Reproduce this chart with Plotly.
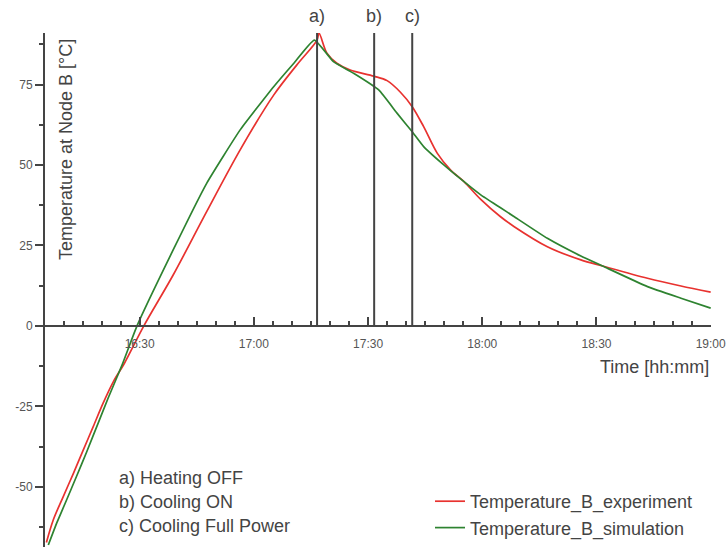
import plotly.graph_objects as go

DAY = "2024-01-01 "

# Experiment (red)
exp_time = ["16:05:30", "16:07:18", "16:09:54", "16:12:36", "16:15:12", "16:17:48", "16:20:24",
            "16:23:06", "16:26:00", "16:31:06",
            "16:38:48", "16:47:36", "16:56:24", "17:05:12", "17:11:18", "17:16:36", "17:17:06",
            "17:19:12", "17:21:48", "17:25:18", "17:31:30", "17:35:00", "17:38:30", "17:41:36",
            "17:44:36", "17:48:12", "17:51:42", "17:55:12", "17:59:36", "18:04:48", "18:08:18",
            "18:17:06", "18:25:54", "18:31:36", "18:43:24", "18:52:12", "19:00:00"]
exp_temp = [-67.3, -60.3, -53.1, -45.8, -38.5, -31.3, -24.0,
            -17.3, -11.6, 0,
            15.8, 35.5, 54.7, 71.7, 81.1, 88.8, 91.0,
            84.7, 81.6, 79.5, 77.6, 76.2, 72.6, 68.1,
            61.9, 53.6, 48.4, 44.8, 39.3, 33.9, 30.9,
            24.6, 20.5, 18.6, 14.8, 12.4, 10.5]

# Simulation (green)
sim_time = ["16:06:00", "16:08:12", "16:10:48", "16:13:24", "16:16:06", "16:19:06", "16:21:42",
            "16:25:30", "16:29:18",
            "16:38:48", "16:47:36", "16:56:24", "17:05:12", "17:10:30", "17:15:54", "17:20:54",
            "17:26:12", "17:32:48", "17:37:36", "17:41:36", "17:44:36", "17:49:54", "17:55:12",
            "17:59:36", "18:04:48", "18:08:18", "18:17:06", "18:25:54", "18:31:36", "18:43:24",
            "18:52:12", "19:00:00"]
sim_temp = [-68.1, -61.3, -54.1, -46.8, -39.1, -30.2, -22.5,
            -11.8, 0,
            23.6, 44.3, 60.9, 74.3, 81.6, 88.8, 82.1,
            78.5, 73.3, 66.1, 60.3, 55.7, 50, 44.8,
            40.7, 36.7, 34.0, 27.2, 21.7, 18.6, 12.2,
            8.6, 5.5]

event_times = ["17:16:36", "17:31:36", "17:41:36"]
event_labels = ["a)", "b)", "c)"]
event_notes = ["a) Heating OFF", "b) Cooling ON", "c) Cooling Full Power"]

y_tick_vals = [-50, -25, 0, 25, 50, 75]
y_tick_text = ["-50", "-25", "0", "25", "50", "75"]

Y_MIN, Y_MAX = -68.7, 91.0
X_MIN, X_MAX = DAY + "16:05:08", DAY + "19:00:05"

FONT = "Liberation Sans, Arial, sans-serif"
TXT = "#444444"
AX = "#444444"

fig = go.Figure()
fig.add_trace(go.Scatter(x=[DAY + t for t in exp_time], y=exp_temp, mode="lines",
                         name="Temperature_B_experiment",
                         line=dict(color="#e8322f", width=1.7, shape="spline", smoothing=0.9)))
fig.add_trace(go.Scatter(x=[DAY + t for t in sim_time], y=sim_temp, mode="lines",
                         name="Temperature_B_simulation",
                         line=dict(color="#2e8330", width=1.7, shape="spline", smoothing=0.4)))

for t, lab in zip(event_times, event_labels):
    fig.add_shape(type="line", xref="x", yref="y", x0=DAY + t, x1=DAY + t, y0=0, y1=Y_MAX,
                  line=dict(color=AX, width=2))
    fig.add_annotation(x=DAY + t, y=1.033, xref="x", yref="paper", text=lab, showarrow=False,
                       font=dict(size=18, color=TXT, family=FONT), xanchor="center", yanchor="middle")

for i, note in enumerate(event_notes):
    fig.add_annotation(x=(117 - 45) / 666, y=(547 - 478 - 24 * i) / 514, xref="paper", yref="paper",
                       text=note, showarrow=False, xanchor="left", yanchor="middle",
                       font=dict(size=18, color=TXT, family=FONT))

fig.add_annotation(x=1.0, y=(547 - 367) / 514, xref="paper", yref="paper", text="Time [hh:mm]",
                   showarrow=False, xanchor="right", yanchor="middle",
                   font=dict(size=18, color=TXT, family=FONT))
fig.add_annotation(x=(66 - 45) / 666, y=(547 - 150) / 514, xref="paper", yref="paper",
                   text="Temperature at Node B [°C]", textangle=-90, showarrow=False,
                   xanchor="center", yanchor="middle",
                   font=dict(size=18, color=TXT, family=FONT))

fig.update_layout(
    width=726, height=547,
    margin=dict(l=45, r=15, t=33, b=0),
    paper_bgcolor="white", plot_bgcolor="white",
    font=dict(family=FONT, color=TXT),
    showlegend=True,
    legend=dict(x=(430 - 45) / 666, y=(547 - 483) / 514, xanchor="left", yanchor="top",
                bgcolor="rgba(0,0,0,0)", font=dict(size=18, color=TXT, family=FONT),
                itemwidth=30, tracegroupgap=0),
    xaxis=dict(
        type="date", range=[X_MIN, X_MAX],
        anchor="free", position=(0 - Y_MIN) / (Y_MAX - Y_MIN),
        showline=True, linecolor=AX, linewidth=2,
        showgrid=False, zeroline=False,
        tickformat="%H:%M", tick0=DAY + "16:00:00", dtick=30 * 60 * 1000,
        ticks="inside", ticklen=8, tickwidth=1.5, tickcolor=AX,
        ticklabelstandoff=7, ticklabeloverflow="allow",
        tickfont=dict(size=12, color="#555555", family=FONT),
        minor=dict(dtick=5 * 60 * 1000, tick0=DAY + "16:00:00", ticks="inside",
                   ticklen=4, tickwidth=1.5, tickcolor=AX, showgrid=False),
    ),
    yaxis=dict(
        range=[Y_MIN, Y_MAX],
        showline=True, linecolor=AX, linewidth=2,
        showgrid=False, zeroline=False,
        tickmode="array", tickvals=y_tick_vals, ticktext=y_tick_text,
        ticks="outside", ticklen=8, tickwidth=1.5, tickcolor=AX,
        tickfont=dict(size=12, color="#555555", family=FONT),
        minor=dict(tickmode="linear", tick0=0, dtick=12.5, ticks="outside",
                   ticklen=4, tickwidth=1.5, tickcolor=AX, showgrid=False),
    ),
)

fig.write_html("out.html")
